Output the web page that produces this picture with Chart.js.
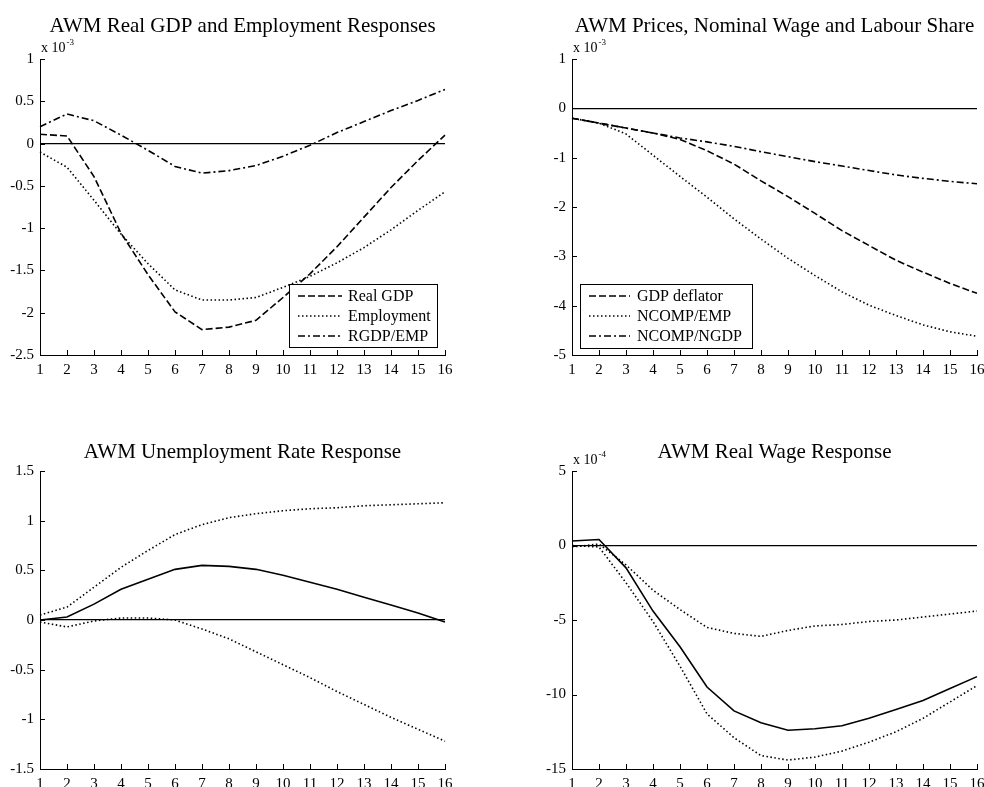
<!DOCTYPE html>
<html>
<head>
<meta charset="utf-8">
<script src="https://cdn.jsdelivr.net/npm/chart.js@4"></script>
<style>
  body { margin: 0; background: #fff; }
  #wrap { position: relative; width: 984px; height: 787px; overflow: hidden; }
  canvas { position: absolute; }
</style>
</head>
<body>
<div id="wrap">
  <canvas id="c1" width="492" height="390" style="left:0;top:0"></canvas>
  <canvas id="c2" width="492" height="390" style="left:492px;top:0"></canvas>
  <canvas id="c3" width="492" height="397" style="left:0;top:390px"></canvas>
  <canvas id="c4" width="492" height="397" style="left:492px;top:390px"></canvas>
</div>
<script>
var periods = [1, 2, 3, 4, 5, 6, 7, 8, 9, 10, 11, 12, 13, 14, 15, 16];

// panel 1 (x 10^-3)
var realGDP    = [0.11, 0.09, -0.39, -1.06, -1.55, -1.99, -2.2, -2.17, -2.09, -1.82, -1.54, -1.22, -0.87, -0.52, -0.2, 0.1];
var employment = [-0.1, -0.28, -0.67, -1.07, -1.42, -1.73, -1.85, -1.85, -1.82, -1.7, -1.57, -1.41, -1.23, -1.02, -0.79, -0.57];
var rgdpEmp    = [0.2, 0.35, 0.27, 0.1, -0.08, -0.27, -0.35, -0.32, -0.26, -0.15, -0.02, 0.13, 0.26, 0.39, 0.51, 0.64];

// panel 2 (x 10^-3)
var gdpDeflator = [-0.2, -0.3, -0.4, -0.5, -0.63, -0.86, -1.13, -1.47, -1.79, -2.13, -2.48, -2.78, -3.08, -3.32, -3.55, -3.75];
var ncompEmp    = [-0.2, -0.3, -0.52, -0.95, -1.38, -1.8, -2.24, -2.65, -3.04, -3.39, -3.72, -3.99, -4.2, -4.39, -4.53, -4.62];
var ncompNgdp   = [-0.2, -0.3, -0.4, -0.5, -0.6, -0.68, -0.77, -0.88, -0.98, -1.08, -1.17, -1.26, -1.35, -1.42, -1.48, -1.53];

// panel 3
var unemp      = [0, 0.03, 0.16, 0.31, 0.41, 0.51, 0.55, 0.54, 0.51, 0.45, 0.38, 0.31, 0.23, 0.15, 0.07, -0.02];
var unempUpper = [0.05, 0.13, 0.33, 0.53, 0.7, 0.86, 0.96, 1.03, 1.07, 1.1, 1.12, 1.13, 1.15, 1.16, 1.17, 1.18];
var unempLower = [-0.02, -0.07, -0.01, 0.02, 0.02, 0.0, -0.09, -0.19, -0.32, -0.45, -0.58, -0.72, -0.85, -0.98, -1.1, -1.22];

// panel 4 (x 10^-4)
var realWage      = [0.3, 0.4, -1.5, -4.4, -6.8, -9.5, -11.1, -11.9, -12.4, -12.3, -12.1, -11.6, -11.0, -10.4, -9.6, -8.8];
var realWageUpper = [-0.1, 0.1, -1.3, -3.0, -4.3, -5.5, -5.9, -6.1, -5.7, -5.4, -5.3, -5.1, -5.0, -4.8, -4.6, -4.4];
var realWageLower = [0.0, -0.1, -2.5, -5.1, -8.1, -11.3, -12.9, -14.1, -14.4, -14.2, -13.8, -13.2, -12.5, -11.6, -10.5, -9.4];

var FONT = '"Liberation Serif", "Times New Roman", serif';
var DASH = [7, 3];
var DOT = [1.5, 2.5];
var DASHDOT = [7, 3, 2, 3];

function line(label, data, dash) {
  return {
    label: label, data: data, borderColor: '#000', borderWidth: 1.6,
    borderDash: dash, pointRadius: 0, tension: 0, fill: false
  };
}

// matlab look: inward ticks, title, exponent, boxed legend
var matlabLook = {
  id: 'matlabLook',
  afterDraw: function (chart, args, o) {
    var ctx = chart.ctx, a = chart.chartArea;
    var xs = chart.scales.x, ys = chart.scales.y;
    ctx.save();
    ctx.strokeStyle = '#000';
    ctx.lineWidth = 1;
    ctx.setLineDash([]);
    ctx.beginPath();
    xs.ticks.forEach(function (t, i) {
      var px = Math.round(xs.getPixelForTick(i)) + 0.5;
      ctx.moveTo(px, a.bottom); ctx.lineTo(px, a.bottom - 5);
    });
    ys.ticks.forEach(function (t, i) {
      var py = Math.round(ys.getPixelForTick(i)) + 0.5;
      ctx.moveTo(a.left, py); ctx.lineTo(a.left + 5, py);
    });
    ctx.stroke();

    ctx.fillStyle = '#000';
    ctx.font = '21px ' + FONT;
    ctx.textAlign = 'center';
    ctx.textBaseline = 'alphabetic';
    ctx.fillText(o.title, (a.left + a.right) / 2, o.titleY);

    if (o.exp) {
      ctx.textAlign = 'left';
      ctx.font = '14px ' + FONT;
      ctx.fillText('x 10', a.left + 1, a.top - 7);
      var w = ctx.measureText('x 10').width;
      ctx.font = '9px ' + FONT;
      ctx.fillText(o.exp, a.left + 2 + w, a.top - 14);
    }

    if (o.legend) {
      var L = o.legend;
      ctx.fillStyle = '#fff';
      ctx.fillRect(L.x, L.y, L.w, L.h);
      ctx.strokeRect(L.x + 0.5, L.y + 0.5, L.w, L.h);
      ctx.font = '16px ' + FONT;
      ctx.textAlign = 'left';
      ctx.textBaseline = 'middle';
      chart.data.datasets.forEach(function (ds, i) {
        var yy = L.rows[i];
        ctx.setLineDash(ds.borderDash);
        ctx.lineWidth = ds.borderWidth;
        ctx.beginPath();
        ctx.moveTo(L.x0, yy); ctx.lineTo(L.x1, yy);
        ctx.stroke();
        ctx.fillStyle = '#000';
        ctx.fillText(ds.label, L.tx, yy + 1);
      });
    }
    ctx.restore();
  }
};

function makeChart(id, datasets, yMin, yMax, yStep, pad, yWidth, xHeight, look) {
  return new Chart(document.getElementById(id), {
    type: 'line',
    data: { labels: periods, datasets: datasets },
    plugins: [matlabLook],
    options: {
      responsive: false,
      animation: false,
      layout: { padding: pad },
      plugins: { legend: { display: false }, tooltip: { enabled: false }, matlabLook: look },
      scales: {
        x: {
          offset: false,
          grid: { display: false, drawTicks: false },
          border: { display: true, color: '#000', width: 1 },
          ticks: { color: '#000', font: { family: FONT, size: 15 }, padding: 6, maxRotation: 0, autoSkip: false },
          afterFit: function (s) { s.height = xHeight; s.paddingLeft = 0; s.paddingRight = 0; }
        },
        y: {
          min: yMin, max: yMax,
          grid: {
            drawTicks: false,
            color: function (c) { return c.tick && c.tick.value === 0 ? '#000' : 'rgba(0,0,0,0)'; },
            lineWidth: 1.3
          },
          border: { display: true, color: '#000', width: 1 },
          ticks: {
            stepSize: yStep, color: '#000', padding: 6,
            font: { family: FONT, size: 15 },
            callback: function (v) { return String(Math.round(v * 100) / 100); }
          },
          afterFit: function (s) { s.width = yWidth; s.paddingTop = 0; s.paddingBottom = 0; }
        }
      }
    }
  });
}

makeChart('c1', [
  line('Real GDP', realGDP, DASH),
  line('Employment', employment, DOT),
  line('RGDP/EMP', rgdpEmp, DASHDOT)
], -2.5, 1, 0.5, { top: 59, left: 0, right: 47, bottom: 0 }, 40, 35, {
  title: 'AWM Real GDP and Employment Responses', titleY: 32, exp: '-3',
  legend: { x: 289, y: 284, w: 148, h: 63, rows: [296, 316, 336], x0: 298, x1: 342, tx: 348 }
});

makeChart('c2', [
  line('GDP deflator', gdpDeflator, DASH),
  line('NCOMP/EMP', ncompEmp, DOT),
  line('NCOMP/NGDP', ncompNgdp, DASHDOT)
], -5, 1, 1, { top: 59, left: 0, right: 7, bottom: 0 }, 80, 35, {
  title: 'AWM Prices, Nominal Wage and Labour Share', titleY: 32, exp: '-3',
  legend: { x: 88, y: 284, w: 172, h: 64, rows: [296, 316, 336], x0: 97, x1: 138, tx: 145 }
});

makeChart('c3', [
  line('Unemployment rate', unemp, []),
  line('Upper band', unempUpper, DOT),
  line('Lower band', unempLower, DOT)
], -1.5, 1.5, 0.5, { top: 81, left: 0, right: 47, bottom: 0 }, 40, 18, {
  title: 'AWM Unemployment Rate Response', titleY: 68
});

makeChart('c4', [
  line('Real wage', realWage, []),
  line('Upper band', realWageUpper, DOT),
  line('Lower band', realWageLower, DOT)
], -15, 5, 5, { top: 81, left: 0, right: 7, bottom: 0 }, 80, 18, {
  title: 'AWM Real Wage Response', titleY: 68, exp: '-4'
});
</script>
</body>
</html>
